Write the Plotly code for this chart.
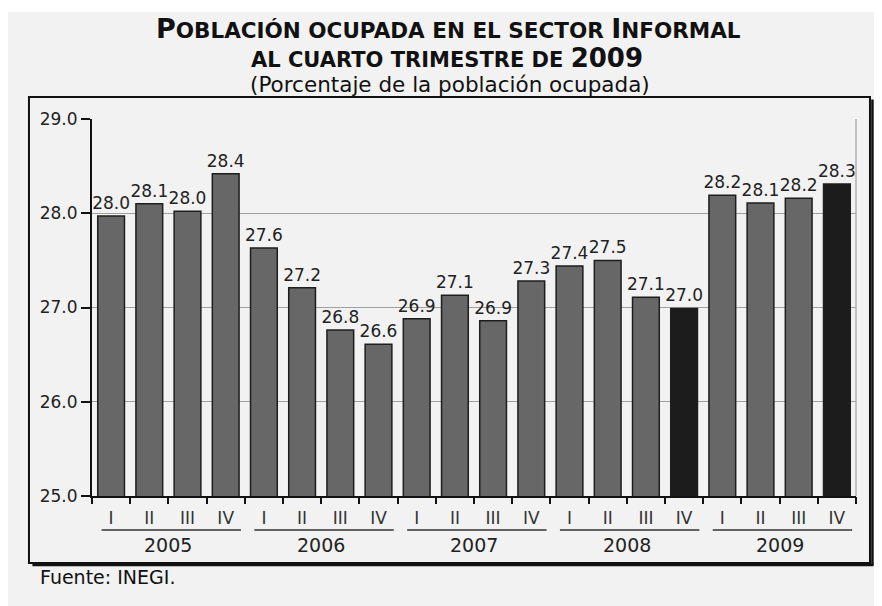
import plotly.graph_objects as go

years = ["2005", "2006", "2007", "2008", "2009"]
quarters = ["I", "II", "III", "IV"]
values = [27.97, 28.10, 28.02, 28.42,
          27.63, 27.21, 26.76, 26.61,
          26.88, 27.13, 26.86, 27.28,
          27.44, 27.50, 27.11, 26.99,
          28.19, 28.11, 28.16, 28.31]
labels = ["28.0", "28.1", "28.0", "28.4",
          "27.6", "27.2", "26.8", "26.6",
          "26.9", "27.1", "26.9", "27.3",
          "27.4", "27.5", "27.1", "27.0",
          "28.2", "28.1", "28.2", "28.3"]
highlight = {"2008-IV", "2009-IV"}

cats = [f"{y}-{q}" for y in years for q in quarters]
xs = list(range(len(cats)))
qtext = [q for y in years for q in quarters]
colors = ["#1c1c1c" if c in highlight else "#676767" for c in cats]

FONT = "DejaVu Sans, Verdana, sans-serif"

fig = go.Figure()
fig.add_trace(go.Bar(
    x=xs, y=values, text=labels, textposition="outside", constraintext="none",
    cliponaxis=False, width=0.7,
    textfont=dict(family=FONT, size=17, color="#222222"),
    marker=dict(color=colors, line=dict(color="#1e1e1e", width=1.5)),
    hoverinfo="skip", showlegend=False,
))
# invisible trace for the boundary-tick axis
fig.add_trace(go.Scatter(x=[-0.5, 19.5], y=[25, 25], xaxis="x2", mode="lines",
                         line=dict(width=0), hoverinfo="skip", showlegend=False))

shapes = []
annotations = []
# thin white strip at top of page
shapes.append(dict(type="rect", xref="paper", yref="paper",
                   x0=-0.2, x1=1.1, y0=1.2838, y1=1.40, fillcolor="white",
                   line=dict(width=0), layer="below"))
# frame with shadow
shapes.append(dict(type="rect", xref="paper", yref="paper",
                   x0=-0.0825, x1=1.0183, y0=-0.1777, y1=1.0584,
                   line=dict(color="#111111", width=2)))
shapes.append(dict(type="line", xref="paper", yref="paper",
                   x0=1.0215, x1=1.0215, y0=-0.1830, y1=1.052,
                   line=dict(color="#111111", width=2.5)))
shapes.append(dict(type="line", xref="paper", yref="paper",
                   x0=-0.078, x1=1.0230, y0=-0.1830, y1=-0.1830,
                   line=dict(color="#111111", width=2.5)))
# right border of plot area
shapes.append(dict(type="line", xref="paper", yref="paper",
                   x0=1, x1=1, y0=0, y1=1, line=dict(color="#a0a0a0", width=1.2)))

for i, y in enumerate(years):
    start = i * 4
    shapes.append(dict(type="line", xref="x", yref="paper",
                       x0=start - 0.5 + 0.25, x1=start + 3.5 - 0.1, y0=-0.0902, y1=-0.0902,
                       line=dict(color="#333333", width=1.5)))
    annotations.append(dict(xref="x", yref="paper", x=start + 1.5, y=-0.130,
                            text=y, showarrow=False, yanchor="middle",
                            font=dict(family=FONT, size=19, color="#222222")))

annotations.append(dict(xref="paper", yref="paper", x=0.467, y=1.2395, yanchor="middle",
                        showarrow=False,
                        text="<b><span style='font-size:27px'>P</span>OBLACIÓN OCUPADA EN EL SECTOR "
                             "<span style='font-size:27px'>I</span>NFORMAL</b>",
                        font=dict(family=FONT, size=21.5, color="#111111")))
annotations.append(dict(xref="paper", yref="paper", x=0.465, y=1.1618, yanchor="middle",
                        showarrow=False,
                        text="<b>AL CUARTO TRIMESTRE DE <span style='font-size:26px'>2009</span></b>",
                        font=dict(family=FONT, size=21, color="#111111")))
annotations.append(dict(xref="paper", yref="paper", x=0.468, y=1.0902, yanchor="middle",
                        showarrow=False,
                        text="(Porcentaje de la población ocupada)",
                        font=dict(family=FONT, size=21.5, color="#111111")))
annotations.append(dict(xref="paper", yref="paper", x=-0.0707, y=-0.2155, xanchor="left",
                        yanchor="middle", showarrow=False, text="Fuente: INEGI.",
                        font=dict(family=FONT, size=19, color="#111111")))

fig.update_layout(
    width=882, height=606,
    margin=dict(l=84, r=34, t=111, b=118),
    paper_bgcolor="#f2f2f2", plot_bgcolor="#f2f2f2",
    bargap=0.3,
    xaxis=dict(range=[-0.5, 19.5], tickmode="array", tickvals=xs, ticktext=qtext,
               ticks="outside", ticklen=6, tickcolor="rgba(0,0,0,0)",
               tickfont=dict(family=FONT, size=17, color="#333333"),
               showline=True, linecolor="#111111", linewidth=2, showgrid=False,
               zeroline=False, fixedrange=True),
    xaxis2=dict(range=[-0.5, 19.5], overlaying="x", side="bottom", tickmode="array",
                tickvals=[i - 0.5 for i in range(len(cats) + 1)], showticklabels=False,
                ticks="outside", ticklen=7, tickwidth=1.5, tickcolor="#111111",
                showgrid=False, zeroline=False, showline=False, fixedrange=True),
    yaxis=dict(range=[25, 29], dtick=1, tickformat=".1f", ticks="outside", ticklen=9,
               tickwidth=1.5, tickcolor="#111111",
               tickfont=dict(family=FONT, size=17, color="#222222"),
               showline=True, linecolor="#111111", linewidth=2,
               showgrid=True, gridcolor="#a0a0a0", gridwidth=1.2, zeroline=False,
               fixedrange=True),
    shapes=shapes, annotations=annotations,
)

fig.write_html("out.html")
